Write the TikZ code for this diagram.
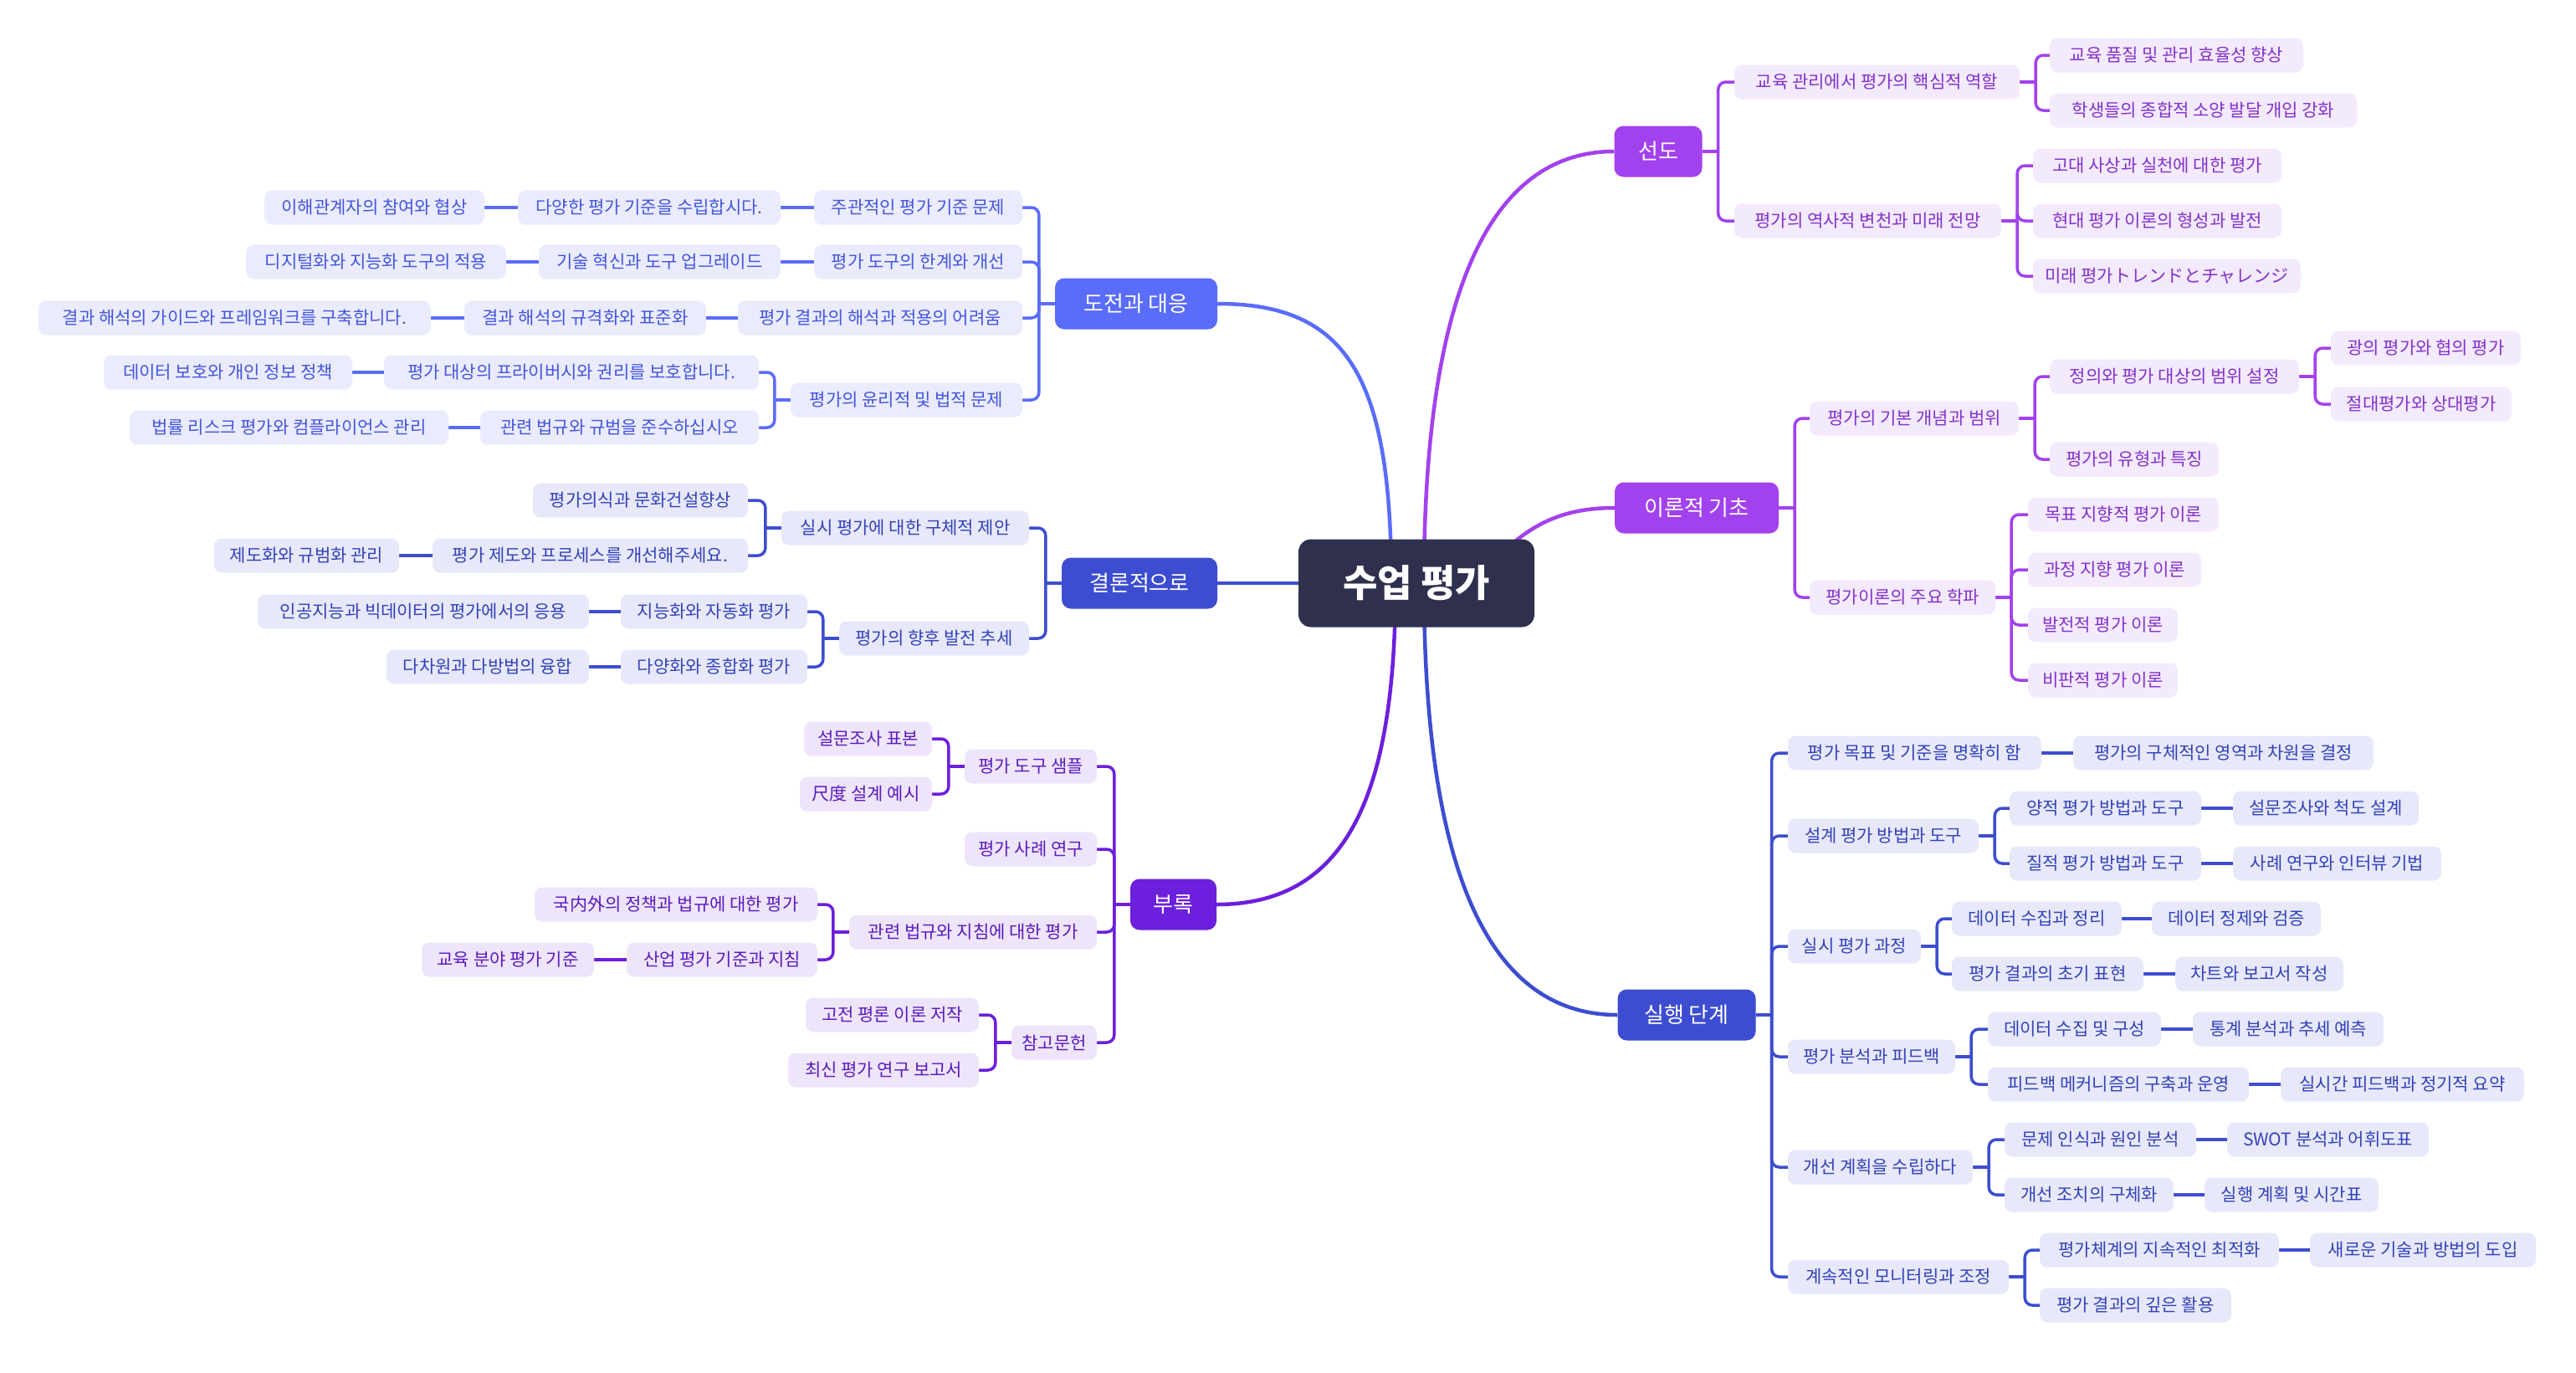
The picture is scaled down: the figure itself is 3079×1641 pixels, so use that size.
\documentclass[tikz,border=0pt]{standalone}
\usepackage{fontspec}
\setmainfont{Noto Sans CJK KR}
\usetikzlibrary{backgrounds}
\definecolor{cP}{HTML}{A241EE}
\definecolor{fP}{HTML}{F4EAFE}
\definecolor{tP}{HTML}{8232C9}
\definecolor{cB}{HTML}{3D4DD1}
\definecolor{fB}{HTML}{E7E9FA}
\definecolor{tB}{HTML}{3442B8}
\definecolor{cL}{HTML}{5A6CFA}
\definecolor{fL}{HTML}{EAECFE}
\definecolor{tL}{HTML}{4555DC}
\definecolor{cV}{HTML}{6C1FDC}
\definecolor{fV}{HTML}{EEE5FB}
\definecolor{tV}{HTML}{5A1CBC}
\definecolor{cC}{HTML}{2F304E}
\tikzset{
  leaf/.style={rounded corners=9pt, minimum height=41pt, inner xsep=4pt, inner ysep=0pt, font=\fontsize{21}{25}\selectfont},
  lp/.style={leaf, fill=fP, text=tP},
  lb/.style={leaf, fill=fB, text=tB},
  ll/.style={leaf, fill=fL, text=tL},
  lv/.style={leaf, fill=fV, text=tV},
  mainnode/.style={rounded corners=11pt, minimum height=61pt, inner xsep=6pt, inner ysep=0pt, text=white, font=\fontsize{26}{30}\selectfont},
  centernode/.style={rounded corners=15pt, minimum height=105pt, minimum width=282pt, fill=cC, text=white, font=\fontsize{45}{50}\selectfont\bfseries},
  lkP/.style={draw=cP, line width=3.5pt},
  lkB/.style={draw=cB, line width=3.5pt},
  lkL/.style={draw=cL, line width=3.5pt},
  lkV/.style={draw=cV, line width=3.5pt},
  cvP/.style={draw=cP, line width=4.5pt},
  cvB/.style={draw=cB, line width=4.5pt},
  cvL/.style={draw=cL, line width=4.5pt},
  cvV/.style={draw=cV, line width=4.5pt},
}
\newcommand\bR[3]{\draw[#1] (#2.east) -- ++(19,0); \draw[#1,rounded corners=9pt] ([xshift=19pt]#2.east) |- (#3.west);}
\newcommand\bL[3]{\draw[#1] (#2.west) -- ++(-19,0); \draw[#1,rounded corners=9pt] ([xshift=-19pt]#2.west) |- (#3.east);}
\newcommand\sR[3]{\draw[#1] (#2.east) -- (#3.west);}
\newcommand\sL[3]{\draw[#1] (#2.west) -- (#3.east);}
\begin{document}
\begin{tikzpicture}[x=1pt,y=-1pt]
\useasboundingbox (0,0) rectangle (3079,1641);
% central
\node[centernode] (c) at (1693,697) {수업 평가};
% ---------- 선도
\node[mainnode, fill=cP, minimum width=105pt] (m1) at (1982,181) {선도};
\node[lp, minimum width=341pt] (a1) at (2243.5,98) {교육 관리에서 평가의 핵심적 역할};
\node[lp, minimum width=303pt] (a11) at (2601.5,66) {교육 품질 및 관리 효율성 향상};
\node[lp, minimum width=367pt] (a12) at (2633.5,132) {학생들의 종합적 소양 발달 개입 강화};
\node[lp, minimum width=319pt] (a2) at (2232.5,264) {평가의 역사적 변천과 미래 전망};
\node[lp, minimum width=297pt] (a21) at (2578.5,198) {고대 사상과 실천에 대한 평가};
\node[lp, minimum width=297pt] (a22) at (2578.5,264) {현대 평가 이론의 형성과 발전};
\node[lp, minimum width=320pt] (a23) at (2590,330) {미래 평가トレンドとチャレンジ};
% ---------- 이론적 기초
\node[mainnode, fill=cP, minimum width=196pt] (m2) at (2028,607) {이론적 기초};
\node[lp, minimum width=250pt] (b1) at (2288,500) {평가의 기본 개념과 범위};
\node[lp, minimum width=298pt] (b11) at (2599,450) {정의와 평가 대상의 범위 설정};
\node[lp, minimum width=227pt] (b111) at (2899.5,416) {광의 평가와 협의 평가};
\node[lp, minimum width=216pt] (b112) at (2894,483) {절대평가와 상대평가};
\node[lp, minimum width=202pt] (b12) at (2551,549) {평가의 유형과 특징};
\node[lp, minimum width=222pt] (b2) at (2274,714) {평가이론의 주요 학파};
\node[lp, minimum width=228pt] (b21) at (2538,615) {목표 지향적 평가 이론};
\node[lp, minimum width=207pt] (b22) at (2527.5,681) {과정 지향 평가 이론};
\node[lp, minimum width=179pt] (b23) at (2513.5,747) {발전적 평가 이론};
\node[lp, minimum width=179pt] (b24) at (2513.5,813) {비판적 평가 이론};
% ---------- 실행 단계
\node[mainnode, fill=cB, minimum width=165pt] (m3) at (2016,1213) {실행 단계};
\node[lb, minimum width=303pt] (c1) at (2288.5,900) {평가 목표 및 기준을 명확히 함};
\node[lb, minimum width=359pt] (c11) at (2657.5,900) {평가의 구체적인 영역과 차원을 결정};
\node[lb, minimum width=228pt] (c2) at (2251,999) {설계 평가 방법과 도구};
\node[lb, minimum width=229pt] (c21) at (2516.5,966) {양적 평가 방법과 도구};
\node[lb, minimum width=222pt] (c211) at (2780,966) {설문조사와 척도 설계};
\node[lb, minimum width=229pt] (c22) at (2516.5,1032) {질적 평가 방법과 도구};
\node[lb, minimum width=249pt] (c221) at (2793.5,1032) {사례 연구와 인터뷰 기법};
\node[lb, minimum width=159pt] (c3) at (2216.5,1131) {실시 평가 과정};
\node[lb, minimum width=203pt] (c31) at (2434.5,1098) {데이터 수집과 정리};
\node[lb, minimum width=202pt] (c311) at (2673,1098) {데이터 정제와 검증};
\node[lb, minimum width=229pt] (c32) at (2447.5,1164) {평가 결과의 초기 표현};
\node[lb, minimum width=201pt] (c321) at (2700.5,1164) {차트와 보고서 작성};
\node[lb, minimum width=200pt] (c4) at (2237,1263) {평가 분석과 피드백};
\node[lb, minimum width=207pt] (c41) at (2479.5,1230) {데이터 수집 및 구성};
\node[lb, minimum width=228pt] (c411) at (2735,1230) {통계 분석과 추세 예측};
\node[lb, minimum width=312pt] (c42) at (2532,1296) {피드백 메커니즘의 구축과 운영};
\node[lb, minimum width=291pt] (c421) at (2871.5,1296) {실시간 피드백과 정기적 요약};
\node[lb, minimum width=221pt] (c5) at (2247.5,1395) {개선 계획을 수립하다};
\node[lb, minimum width=229pt] (c51) at (2510.5,1362) {문제 인식과 원인 분석};
\node[lb, minimum width=241pt] (c511) at (2782.5,1362) {SWOT 분석과 어휘도표};
\node[lb, minimum width=202pt] (c52) at (2497,1428) {개선 조치의 구체화};
\node[lb, minimum width=208pt] (c521) at (2739,1428) {실행 계획 및 시간표};
\node[lb, minimum width=264pt] (c6) at (2269,1526) {계속적인 모니터링과 조정};
\node[lb, minimum width=286pt] (c61) at (2581,1494) {평가체계의 지속적인 최적화};
\node[lb, minimum width=270pt] (c611) at (2896,1494) {새로운 기술과 방법의 도입};
\node[lb, minimum width=229pt] (c62) at (2552.5,1560) {평가 결과의 깊은 활용};
% ---------- 도전과 대응
\node[mainnode, fill=cL, minimum width=194pt] (m4) at (1358,363) {도전과 대응};
\node[ll, minimum width=249pt] (d1) at (1097.5,248) {주관적인 평가 기준 문제};
\node[ll, minimum width=314pt] (d11) at (776,248) {다양한 평가 기준을 수립합시다.};
\node[ll, minimum width=263pt] (d111) at (447.5,248) {이해관계자의 참여와 협상};
\node[ll, minimum width=249pt] (d2) at (1097.5,313) {평가 도구의 한계와 개선};
\node[ll, minimum width=289pt] (d21) at (788.5,313) {기술 혁신과 도구 업그레이드};
\node[ll, minimum width=311pt] (d211) at (449.5,313) {디지털화와 지능화 도구의 적용};
\node[ll, minimum width=340pt] (d3) at (1052,380) {평가 결과의 해석과 적용의 어려움};
\node[ll, minimum width=289pt] (d31) at (699.5,380) {결과 해석의 규격화와 표준화};
\node[ll, minimum width=469pt] (d311) at (280.5,380) {결과 해석의 가이드와 프레임워크를 구축합니다.};
\node[ll, minimum width=277pt] (d4) at (1083.5,478) {평가의 윤리적 및 법적 문제};
\node[ll, minimum width=448pt] (d41) at (683,445) {평가 대상의 프라이버시와 권리를 보호합니다.};
\node[ll, minimum width=297pt] (d411) at (272.5,445) {데이터 보호와 개인 정보 정책};
\node[ll, minimum width=333pt] (d42) at (740.5,511) {관련 법규와 규범을 준수하십시오};
\node[ll, minimum width=381pt] (d421) at (345.5,511) {법률 리스크 평가와 컴플라이언스 관리};
% ---------- 결론적으로
\node[mainnode, fill=cB, minimum width=186pt] (m5) at (1362,697) {결론적으로};
\node[lb, minimum width=296pt] (e1) at (1082,631) {실시 평가에 대한 구체적 제안};
\node[lb, minimum width=257pt] (e11) at (765.5,598) {평가의식과 문화건설향상};
\node[lb, minimum width=377pt] (e12) at (705.5,664) {평가 제도와 프로세스를 개선해주세요.};
\node[lb, minimum width=221pt] (e121) at (366.5,664) {제도화와 규범화 관리};
\node[lb, minimum width=227pt] (e2) at (1116.5,763) {평가의 향후 발전 추세};
\node[lb, minimum width=223pt] (e21) at (853.5,731) {지능화와 자동화 평가};
\node[lb, minimum width=396pt] (e211) at (506,731) {인공지능과 빅데이터의 평가에서의 응용};
\node[lb, minimum width=223pt] (e22) at (853.5,797) {다양화와 종합화 평가};
\node[lb, minimum width=242pt] (e221) at (583,797) {다차원과 다방법의 융합};
% ---------- 부록
\node[mainnode, fill=cV, minimum width=103pt] (m6) at (1402.5,1081) {부록};
\node[lv, minimum width=158pt] (f1) at (1232,916) {평가 도구 샘플};
\node[lv, minimum width=153pt] (f11) at (1037.5,883) {설문조사 표본};
\node[lv, minimum width=158pt] (f12) at (1035,949) {尺度 설계 예시};
\node[lv, minimum width=158pt] (f2) at (1232,1015) {평가 사례 연구};
\node[lv, minimum width=296pt] (f3) at (1163,1114) {관련 법규와 지침에 대한 평가};
\node[lv, minimum width=338pt] (f31) at (808,1081) {국内外의 정책과 법규에 대한 평가};
\node[lv, minimum width=228pt] (f32) at (863,1147) {산업 평가 기준과 지침};
\node[lv, minimum width=206pt] (f321) at (607,1147) {교육 분야 평가 기준};
\node[lv, minimum width=102pt] (f4) at (1260,1246) {참고문헌};
\node[lv, minimum width=207pt] (f41) at (1066.5,1213) {고전 평론 이론 저작};
\node[lv, minimum width=228pt] (f42) at (1056,1279) {최신 평가 연구 보고서};
% ---------- connectors
\begin{pgfonlayer}{background}
\fill[white] (0,0) rectangle (3079,1641);
% main curves
\draw[cvP] ([xshift=9pt]c.center) .. controls (1702,330) and (1790,181) .. (m1.west);
\draw[cvP] ([xshift=70pt]c.center) .. controls (1810,640) and (1850,607) .. (m2.west);
\draw[cvB] ([xshift=9pt]c.center) .. controls (1702,1064) and (1790,1213) .. (m3.west);
\draw[cvL] ([xshift=-30pt]c.center) .. controls (1663,450) and (1610,363) .. (m4.east);
\draw[cvB] (c.west) -- (m5.east);
\draw[cvV] ([xshift=-25pt]c.center) .. controls (1668,950) and (1610,1081) .. (m6.east);
% 선도
\bR{lkP}{m1}{a1} \bR{lkP}{m1}{a2}
\bR{lkP}{a1}{a11} \bR{lkP}{a1}{a12}
\bR{lkP}{a2}{a21} \bR{lkP}{a2}{a22} \bR{lkP}{a2}{a23}
% 이론적 기초
\bR{lkP}{m2}{b1} \bR{lkP}{m2}{b2}
\bR{lkP}{b1}{b11} \bR{lkP}{b1}{b12}
\bR{lkP}{b11}{b111} \bR{lkP}{b11}{b112}
\bR{lkP}{b2}{b21} \bR{lkP}{b2}{b22} \bR{lkP}{b2}{b23} \bR{lkP}{b2}{b24}
% 실행 단계
\bR{lkB}{m3}{c1} \bR{lkB}{m3}{c2} \bR{lkB}{m3}{c3} \bR{lkB}{m3}{c4} \bR{lkB}{m3}{c5} \bR{lkB}{m3}{c6}
\sR{lkB}{c1}{c11}
\bR{lkB}{c2}{c21} \bR{lkB}{c2}{c22} \sR{lkB}{c21}{c211} \sR{lkB}{c22}{c221}
\bR{lkB}{c3}{c31} \bR{lkB}{c3}{c32} \sR{lkB}{c31}{c311} \sR{lkB}{c32}{c321}
\bR{lkB}{c4}{c41} \bR{lkB}{c4}{c42} \sR{lkB}{c41}{c411} \sR{lkB}{c42}{c421}
\bR{lkB}{c5}{c51} \bR{lkB}{c5}{c52} \sR{lkB}{c51}{c511} \sR{lkB}{c52}{c521}
\bR{lkB}{c6}{c61} \bR{lkB}{c6}{c62} \sR{lkB}{c61}{c611}
% 도전과 대응
\bL{lkL}{m4}{d1} \bL{lkL}{m4}{d2} \bL{lkL}{m4}{d3} \bL{lkL}{m4}{d4}
\sL{lkL}{d1}{d11} \sL{lkL}{d11}{d111}
\sL{lkL}{d2}{d21} \sL{lkL}{d21}{d211}
\sL{lkL}{d3}{d31} \sL{lkL}{d31}{d311}
\bL{lkL}{d4}{d41} \bL{lkL}{d4}{d42} \sL{lkL}{d41}{d411} \sL{lkL}{d42}{d421}
% 결론적으로
\bL{lkB}{m5}{e1} \bL{lkB}{m5}{e2}
\bL{lkB}{e1}{e11} \bL{lkB}{e1}{e12} \sL{lkB}{e12}{e121}
\bL{lkB}{e2}{e21} \bL{lkB}{e2}{e22} \sL{lkB}{e21}{e211} \sL{lkB}{e22}{e221}
% 부록
\bL{lkV}{m6}{f1} \bL{lkV}{m6}{f2} \bL{lkV}{m6}{f3} \bL{lkV}{m6}{f4}
\bL{lkV}{f1}{f11} \bL{lkV}{f1}{f12}
\bL{lkV}{f3}{f31} \bL{lkV}{f3}{f32} \sL{lkV}{f32}{f321}
\bL{lkV}{f4}{f41} \bL{lkV}{f4}{f42}
\end{pgfonlayer}
\end{tikzpicture}
\end{document}
